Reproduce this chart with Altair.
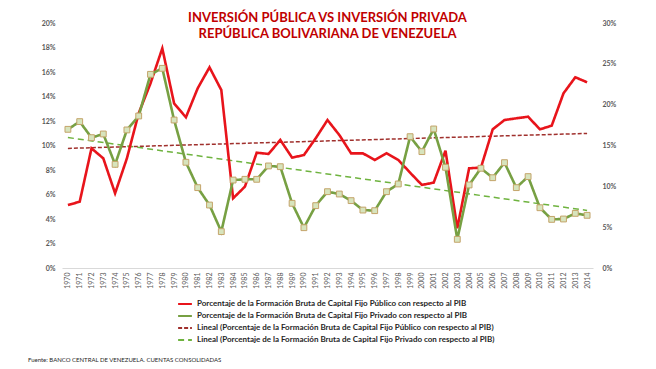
import altair as alt
import pandas as pd

years = list(range(1970, 2015))
publico = [5.14, 5.41, 9.77, 8.95, 6.10, 8.95, 12.63, 15.07, 17.93, 13.44, 12.30, 14.67, 16.38, 14.53, 5.69, 6.64,
           9.41, 9.31, 10.45, 9.01, 9.22, 10.59, 12.08, 10.86, 9.36, 9.36, 8.82, 9.36, 8.82, 7.78, 6.78, 6.97,
           9.58, 3.24, 8.14, 8.19, 11.32, 12.08, 12.22, 12.35, 11.32, 11.62, 14.26, 15.57, 15.16]
privado = [11.32, 11.95, 10.64, 10.94, 8.46, 11.27, 12.41, 15.81, 16.30, 12.08, 8.63, 6.56, 5.14, 2.97, 7.18, 7.24,
           7.24, 8.33, 8.27, 5.28, 3.29, 5.09, 6.23, 6.04, 5.50, 4.73, 4.68, 6.23, 6.86, 10.72, 9.50, 11.35,
           8.22, 2.34, 6.78, 8.14, 7.37, 8.60, 6.56, 7.46, 4.92, 3.97, 4.00, 4.46, 4.30]

S_PUB = "Porcentaje de la Formación Bruta de Capital Fijo Público con respecto al PIB"
S_PRI = "Porcentaje de la Formación Bruta de Capital Fijo Privado con respecto al PIB"
L_PUB = "Lineal (Porcentaje de la Formación Bruta de Capital Fijo Público con respecto al PIB)"
L_PRI = "Lineal (Porcentaje de la Formación Bruta de Capital Fijo Privado con respecto al PIB)"

df = pd.DataFrame({
    "year": years * 2,
    "valor": [v / 100 for v in publico] + [v / 100 for v in privado],
    "serie": [S_PUB] * len(years) + [S_PRI] * len(years),
})

domain = [S_PUB, S_PRI, L_PUB, L_PRI]
colors = ["#E8141B", "#77A043", "#A0302D", "#6FB33F"]
dashes = [[1, 0], [1, 0], [4, 2], [6, 4]]

color = alt.Color("serie:N", scale=alt.Scale(domain=domain, range=colors),
                  legend=alt.Legend(title=None, orient="none", legendX=115, legendY=273,
                                    direction="vertical", labelFontSize=8, labelFont="Lato",
                                    labelFontWeight="bold", labelColor="#262626", labelLimit=500,
                                    symbolType="stroke", symbolSize=190, symbolStrokeWidth=2,
                                    rowPadding=0, labelOffset=4))
dash = alt.StrokeDash("serie:N", scale=alt.Scale(domain=domain, range=dashes), legend=None)
dash_leg = alt.StrokeDash("serie:N", scale=alt.Scale(domain=domain, range=dashes))

xenc = alt.X("year:Q", scale=alt.Scale(domain=[1969.5, 2014.5], nice=False, zero=False),
             axis=alt.Axis(values=years, format="d", labelAngle=270, labelFontSize=7, labelColor="#595959",
                           labelFont="Lato", labelOverlap=False, ticks=False, grid=False,
                           domainColor="#D9D9D9", labelPadding=4, title=None, labelBaseline="middle",
                           labelAlign="right"))
yenc = alt.Y("valor:Q", scale=alt.Scale(domain=[0, 0.2], nice=False),
             axis=alt.Axis(values=[0, 0.02, 0.04, 0.06, 0.08, 0.1, 0.12, 0.14, 0.16, 0.18, 0.2],
                           format=".0%", labelFontSize=7, labelColor="#595959", labelFont="Lato",
                           labelFontWeight="bold", ticks=False, grid=False, domain=False,
                           labelPadding=7, title=None))

base = alt.Chart(df)

lines = base.mark_line(strokeWidth=2.6).encode(x=xenc, y=yenc, color=color, strokeDash=dash_leg)
pts = base.transform_filter(alt.datum.serie == S_PRI).mark_square(
    size=34, fill="#D7E4BD", stroke="#C4A46A", strokeWidth=1, opacity=1
).encode(x=xenc, y=yenc)

trend = base.transform_regression("year", "valor", groupby=["serie"]).transform_calculate(
    serie="'Lineal (' + datum.serie + ')'"
).mark_line(strokeWidth=1.5).encode(x=xenc, y=yenc, color=color, strokeDash=dash)

source = alt.Chart(pd.DataFrame({"t": ["Fuente:  BANCO CENTRAL DE VENEZUELA.   CUENTAS CONSOLIDADAS"]})).mark_text(
    align="left", baseline="middle", fontSize=6, font="Lato", color="#262626"
).encode(text="t:N", x=alt.value(-34), y=alt.value(337))

left = alt.layer(trend, lines, pts, source)

right = base.mark_point(opacity=0).encode(
    x=xenc,
    y=alt.Y("valor:Q", scale=alt.Scale(domain=[0, 0.3], nice=False),
            axis=alt.Axis(orient="right", values=[0, 0.05, 0.1, 0.15, 0.2, 0.25, 0.3], format=".0%",
                          labelFontSize=7, labelColor="#595959", labelFont="Lato", labelFontWeight="bold",
                          ticks=False, grid=False, domain=False, labelPadding=9, title=None)),
)

chart = alt.layer(left, right).resolve_scale(y="independent").properties(
    width=531, height=245,
    title=alt.TitleParams(["INVERSIÓN PÚBLICA VS INVERSIÓN PRIVADA", "REPÚBLICA BOLIVARIANA DE VENEZUELA"],
                          font="Lato", fontSize=13, fontWeight="bold", color="#C00000",
                          anchor="middle", lineHeight=16, offset=-22),
    autosize=alt.AutoSizeParams(type="none"),
    padding={"left": 54, "top": 15, "right": 50, "bottom": 105},
).configure_view(stroke=None)

chart.save("out.html", embed_options={"renderer": "svg", "actions": False})
